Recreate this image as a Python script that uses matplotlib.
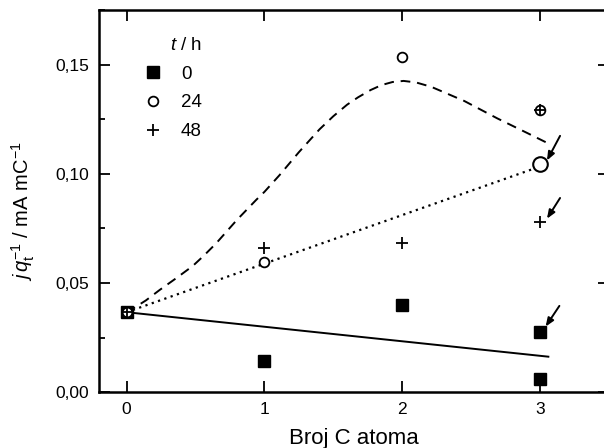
import matplotlib
matplotlib.use("Agg")
import matplotlib.pyplot as plt
from matplotlib.ticker import MultipleLocator, FuncFormatter

plt.rcParams['font.family'] = ['Liberation Sans', 'DejaVu Sans']
plt.rcParams['mathtext.fontset'] = 'custom'
plt.rcParams['mathtext.rm'] = 'Liberation Sans'
plt.rcParams['mathtext.it'] = 'Liberation Sans:italic'
plt.rcParams['mathtext.bf'] = 'Liberation Sans:bold'

# ---- data ----
sq_x = [0, 1, 2, 3, 3]
sq_y = [0.0366, 0.0143, 0.0400, 0.0277, 0.0060]

circ_x = [0, 1, 2, 3]
circ_y = [0.0366, 0.0598, 0.1535, 0.1295]
big_circ_x = [3]
big_circ_y = [0.1048]

plus_x = [0, 1, 2, 3, 3]
plus_y = [0.0366, 0.0659, 0.0682, 0.0781, 0.1295]

solid_x = [0, 3.06]
solid_y = [0.0366, 0.0162]

dotted_x = [0, 2.98]
dotted_y = [0.0366, 0.1030]

dash_x = [0, 0.05, 0.14, 0.24, 0.36, 0.48, 0.56, 0.65, 0.80, 0.94, 1.00, 1.11,
          1.25, 1.40, 1.50, 1.60, 1.68, 1.77, 1.85, 1.93, 2.01, 2.10, 2.21,
          2.45, 2.69, 2.91, 3.06]
dash_y = [0.0366, 0.0384, 0.0420, 0.0468, 0.0522, 0.0578, 0.0625, 0.0682,
          0.0789, 0.0881, 0.0918, 0.0995, 0.1100, 0.1205, 0.1265, 0.1318,
          0.1352, 0.1385, 0.1408, 0.1422, 0.1427, 0.1420, 0.1400, 0.1335,
          0.1255, 0.1187, 0.1140]

arrow_tips = [(3.05, 0.1062), (3.05, 0.0795), (3.04, 0.0300)]
arrow_tails = [(3.145, 0.1175), (3.145, 0.0890), (3.14, 0.0395)]

legend_labels = ['0', '24', '48']
x_ticks = [0, 1, 2, 3]
y_ticks = [0.00, 0.05, 0.10, 0.15]

# ---- figure ----
fig = plt.figure(figsize=(6.04, 4.48), dpi=100)
ax = fig.add_axes([99/604, 1-392/448, (609-99)/604, (392-10.5)/448])

ax.plot(solid_x, solid_y, '-', color='black', lw=1.4)
ax.plot(dotted_x, dotted_y, linestyle=(0, (1, 2)), color='black', lw=1.6)
ax.plot(dash_x, dash_y, linestyle=(0, (5, 3.5)), color='black', lw=1.4)

h0, = ax.plot(sq_x, sq_y, 's', color='black', ms=9, ls='none', zorder=4)
h1, = ax.plot(circ_x, circ_y, 'o', mfc='white', mec='black', mew=1.3, ms=7,
              ls='none', zorder=5)
ax.plot(big_circ_x, big_circ_y, 'o', mfc='white', mec='black', mew=1.5, ms=10.5,
        ls='none', zorder=5)
h2, = ax.plot(plus_x, plus_y, '+', color='black', mew=1.3, ms=8, ls='none',
              zorder=6)

for tip, tail in zip(arrow_tips, arrow_tails):
    ax.annotate('', xy=tip, xytext=tail,
                arrowprops=dict(arrowstyle='-|>,head_length=0.5,head_width=0.2',
                                lw=1.4, color='black', shrinkA=0, shrinkB=0),
                zorder=7)

ax.set_xlim(-0.2, 3.5)
ax.set_ylim(0, 0.175)
ax.set_xticks(x_ticks)
ax.set_yticks(y_ticks)
ax.yaxis.set_minor_locator(MultipleLocator(0.025))
ax.yaxis.set_major_formatter(FuncFormatter(lambda v, p: f"{v:.2f}".replace('.', ',')))
ax.tick_params(which='both', direction='in', top=True, right=True, width=1.3,
               labelsize=12.5, pad=7)
ax.tick_params(which='major', length=8)
ax.tick_params(which='minor', length=4, right=False)
for s in ax.spines.values():
    s.set_linewidth(1.8)
ax.spines['right'].set_visible(False)

ax.set_xlabel('Broj C atoma', fontsize=16, labelpad=8)
ax.set_ylabel(r'$j\,q_{\mathrm{t}}^{-1}$ / mA mC$^{-1}$', fontsize=14.5)
ax.yaxis.set_label_coords(-0.121, 0.475)

leg = ax.legend([h0, h1, h2], legend_labels, title=r'$t$ / h', loc='upper left',
                bbox_to_anchor=(0.05, 0.975), frameon=False, fontsize=13.5,
                title_fontsize=13.5, handlelength=1.2, handletextpad=0.9,
                labelspacing=0.62, markerscale=1.0)
leg._legend_box.align = 'right'

fig.savefig('out.png', dpi=100)
